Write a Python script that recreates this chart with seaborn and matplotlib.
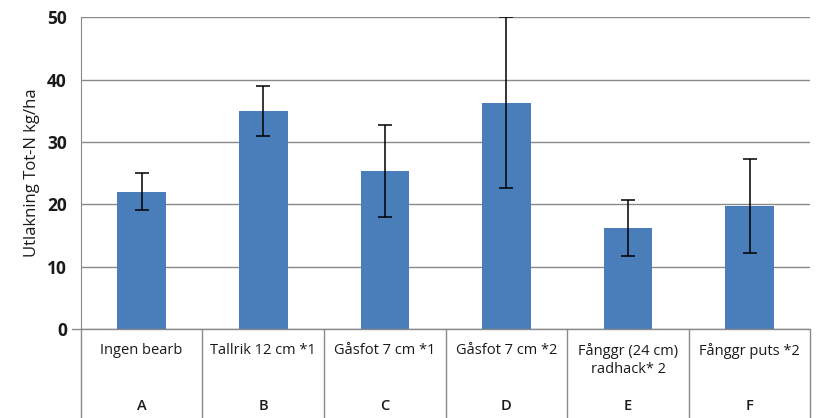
import numpy as np
import pandas as pd
import seaborn as sns
import matplotlib.pyplot as plt

# values
names = ["Ingen bearb", "Tallrik 12 cm *1", "Gåsfot 7 cm *1", "Gåsfot 7 cm *2",
         "Fånggr (24 cm)\nradhack* 2", "Fånggr puts *2"]
letters = ["A", "B", "C", "D", "E", "F"]
means = [22.0, 35.0, 25.3, 36.3, 16.2, 19.7]
errors = [3.0, 4.0, 7.4, 13.7, 4.5, 7.5]

df = pd.DataFrame({"letter": letters, "value": means})

sns.set_style("white")
plt.rcParams["font.family"] = ["Open Sans", "DejaVu Sans"]

fig = plt.figure(figsize=(8.17, 4.18), dpi=100)
ax = fig.add_axes([0.099, 0.213, 0.893, 0.746])

sns.barplot(data=df, x="letter", y="value", color="#4A7EBB", saturation=1,
            width=0.4, errorbar=None, linewidth=0, ax=ax)
ax.errorbar(range(len(means)), means, yerr=errors, fmt="none",
            ecolor="black", elinewidth=1.1, capsize=5, capthick=1.1)

ax.set_ylim(0, 50)
ax.set_xlim(-0.5, len(means) - 0.5)
ax.set_yticks(range(0, 51, 10))
ax.yaxis.grid(True, color="#8a8a8a", linewidth=1.0)
ax.set_axisbelow(True)
for s in ["top", "right", "bottom"]:
    ax.spines[s].set_visible(False)
ax.spines["left"].set_color("#8a8a8a")
ax.tick_params(axis="y", labelsize=12.5, length=0, pad=10, labelcolor="#1a1a1a")
ax.set_yticklabels([str(t) for t in range(0, 51, 10)], fontweight="bold")
ax.set_xticks([])
ax.set_xlabel("")
ax.set_ylabel("Utlakning Tot-N kg/ha", fontsize=12, color="#1a1a1a", labelpad=5)

# category table under the axis
tr = ax.get_xaxis_transform()
for x in np.arange(-0.5, len(means), 1.0):
    ax.plot([x, x], [0, -0.3], transform=tr, color="#8a8a8a", linewidth=1.0, clip_on=False)
ax.plot([-0.57, len(means) - 0.5], [0, 0], transform=tr, color="#8a8a8a", linewidth=1.0, clip_on=False)
for i, (n, l) in enumerate(zip(names, letters)):
    ax.text(i, -0.045, n, transform=tr, ha="center", va="top", fontsize=10.5,
            color="#1a1a1a", linespacing=1.3)
    ax.text(i, -0.225, l, transform=tr, ha="center", va="top", fontsize=10.5,
            color="#1a1a1a", fontweight="semibold")

fig.savefig("out.png", dpi=100)
